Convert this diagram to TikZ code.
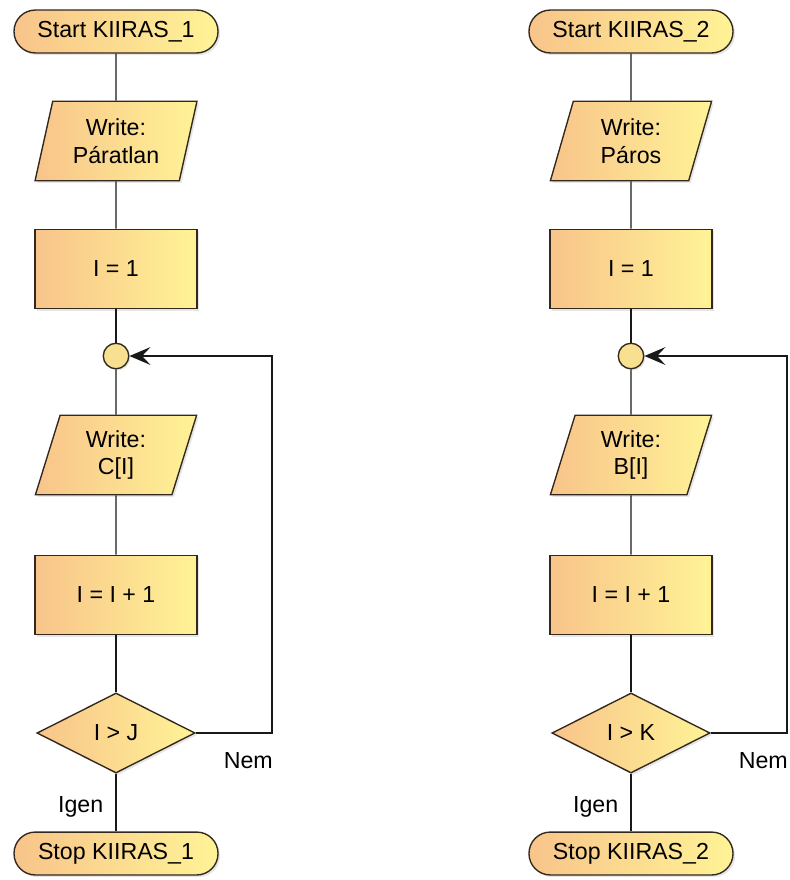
\documentclass[tikz,border=0pt]{standalone}
\usepackage{fontspec}
\setmainfont{Liberation Sans}
\usetikzlibrary{arrows.meta,shapes.geometric,shadows}
\usepackage{xcolor}

\definecolor{boxleft}{RGB}{248,196,138}
\definecolor{boxright}{RGB}{255,243,150}
\definecolor{boxline}{RGB}{50,40,30}
\definecolor{joinfill}{RGB}{248,224,145}

\begin{document}
\begin{tikzpicture}[font=\fontsize{22}{26.5}\selectfont, >=Stealth,
  base/.style={draw=boxline, line width=1.3pt, left color=boxleft, right color=boxright,
    drop shadow={opacity=0.2, shadow xshift=2pt, shadow yshift=-2pt},
    align=center, inner sep=0pt},
  termbox/.style={base, rectangle, rounded corners=0.71cm, minimum width=6.8cm, minimum height=1.43cm},
  iobox/.style={base, trapezium, trapezium left angle=75, trapezium right angle=105,
    trapezium stretches, minimum width=5.4cm, minimum height=2.65cm},
  procbox/.style={base, rectangle, minimum width=5.4cm, minimum height=2.65cm},
  testbox/.style={base, diamond, aspect=2, minimum width=5.27cm, minimum height=2.67cm},
  joint/.style={circle, draw=boxline, line width=1.3pt, fill=joinfill, minimum size=0.85cm,
    inner sep=0pt, drop shadow={opacity=0.2, shadow xshift=1.5pt, shadow yshift=-1.5pt}},
  flow/.style={draw=black!90, line width=1.1pt}]

  \useasboundingbox (0,0) rectangle (26.3,-29.333);

  %% one column per routine: x of the column / number / text / array / limit / x of the loop line
  \foreach \cx/\num/\what/\arr/\lim/\lx in {3.867/1/Páratlan/C/J/9.067,
                                          21.033/2/Páros/B/K/26.233}{
    %% ── boxes ──────────────────────────────────────────
    \node[termbox] (start\num) at (\cx,-1.05)   {Start KIIRAS\_\num};
    \node[iobox]   (head\num)  at (\cx,-4.7)    {Write:\\\what};
    \node[procbox] (init\num)  at (\cx,-8.967)  {I = 1};
    \node[joint]   (join\num)  at (\cx,-11.867) {};
    \node[iobox]   (out\num)   at (\cx,-15.167) {Write:\\\arr[I]};
    \node[procbox] (inc\num)   at (\cx,-19.833) {I = I + 1};
    \node[testbox] (test\num)  at (\cx,-24.433) {I > \lim};
    \node[termbox] (stop\num)  at (\cx,-28.45)  {Stop KIIRAS\_\num};

    %% ── straight flow ──────────────────────────────────
    \draw[flow] (start\num) -- (head\num);
    \draw[flow] (head\num) -- (init\num);
    \draw[flow] (init\num) -- (join\num);
    \draw[flow] (join\num) -- (out\num);
    \draw[flow] (out\num) -- (inc\num);
    \draw[flow] (inc\num) -- (test\num);
    \draw[flow] (test\num) -- (stop\num);

    %% ── loop back (Nem) ────────────────────────────────
    \coordinate (back\num) at (\lx,-11.867);
    \draw[flow,-{Stealth[length=20pt,width=17pt,inset=8pt]}]
      (test\num.east) -| (back\num) -- (join\num.east);

    \node[anchor=base west] (nem\num)  at (\cx+3.47,-25.6)  {Nem};
    \node[anchor=base east] (igen\num) at (\cx-0.3,-27.07) {Igen};
  }
\end{tikzpicture}
\end{document}
